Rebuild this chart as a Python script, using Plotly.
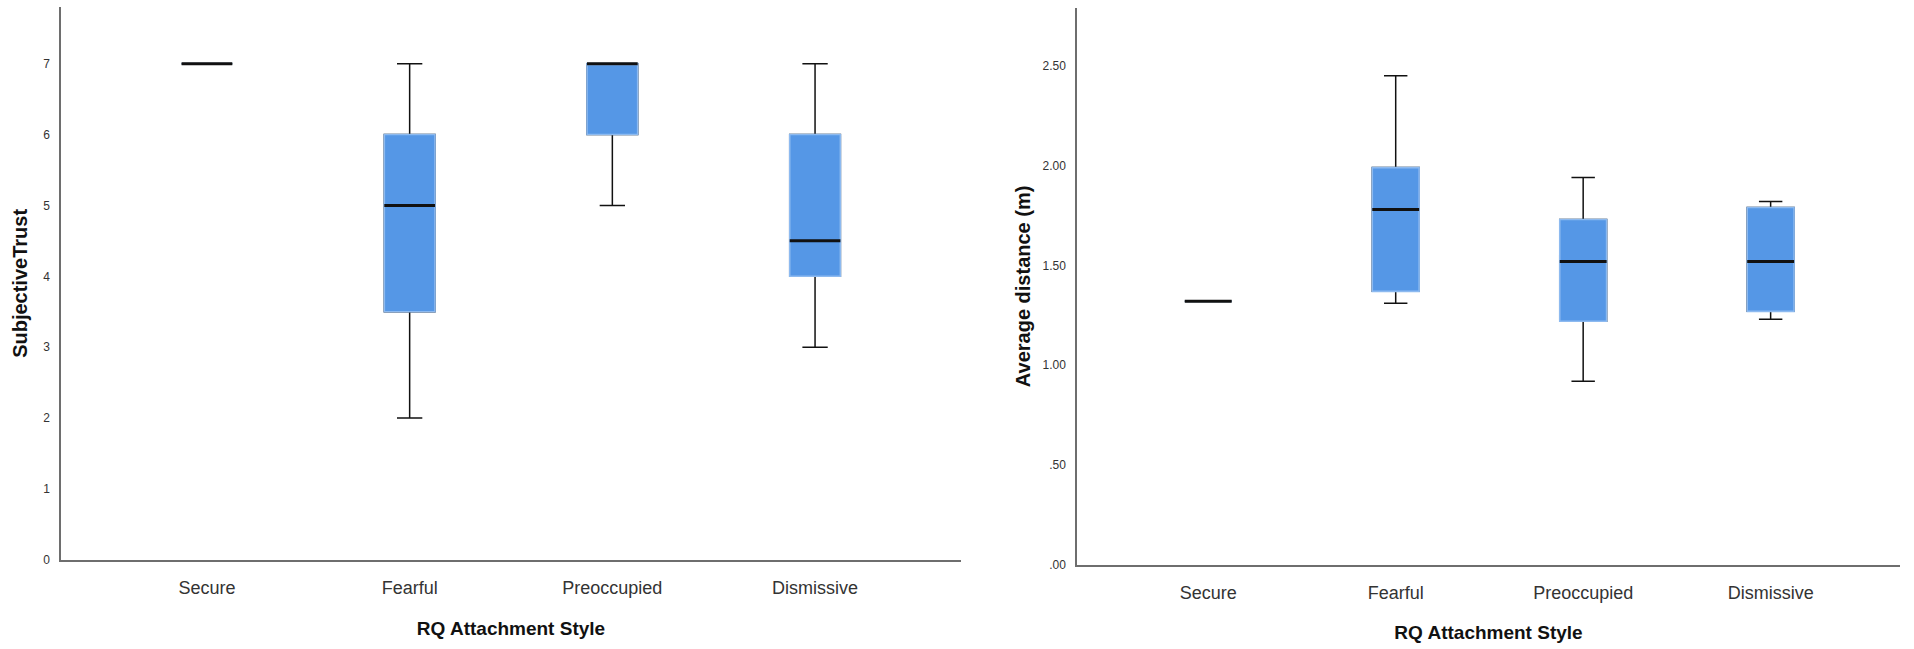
import plotly.graph_objects as go

# ---------------- data ----------------
categories = ["Secure", "Fearful", "Preoccupied", "Dismissive"]

trust_lower = [7, 2, 5, 3]
trust_q1 = [7, 3.5, 6, 4]
trust_median = [7, 5, 7, 4.5]
trust_q3 = [7, 6, 7, 6]
trust_upper = [7, 7, 7, 7]

dist_lower = [1.32, 1.31, 0.92, 1.23]
dist_q1 = [1.32, 1.37, 1.22, 1.27]
dist_median = [1.32, 1.78, 1.52, 1.52]
dist_q3 = [1.32, 1.99, 1.73, 1.79]
dist_upper = [1.32, 2.45, 1.94, 1.82]

trust_tickvals = [0, 1, 2, 3, 4, 5, 6, 7]
trust_ticktext = ["0", "1", "2", "3", "4", "5", "6", "7"]
dist_tickvals = [0, 0.5, 1.0, 1.5, 2.0, 2.5]
dist_ticktext = [".00", ".50", "1.00", "1.50", "2.00", "2.50"]

# ---------------- style ----------------
BLUE = "#5597E6"
BORDER = "#8DBAF0"
DARK = "#111111"
AXIS = "#6E6E6E"
FONT = "Liberation Sans, Arial, sans-serif"
W, H = 1914, 649

fig = go.Figure()


def add_boxes(lower, q1, med, q3, upper, xa, ya):
    common = dict(x=categories, orientation="v", width=0.25, whiskerwidth=0.5,
                  boxpoints=False, hoverinfo="skip", showlegend=False,
                  xaxis=xa, yaxis=ya)
    # whiskers + caps (black)
    fig.add_trace(go.Box(q1=q1, median=med, q3=q3, lowerfence=lower, upperfence=upper,
                         fillcolor=BLUE, line=dict(color=DARK, width=1.5), **common))
    # box body with light border
    fig.add_trace(go.Box(q1=q1, median=med, q3=q3, lowerfence=q1, upperfence=q3,
                         fillcolor=BLUE, line=dict(color=BORDER, width=1.6), **common))
    # thick black median
    fig.add_trace(go.Box(q1=med, median=med, q3=med, lowerfence=med, upperfence=med,
                         fillcolor=DARK, line=dict(color=DARK, width=3), **common))


add_boxes(trust_lower, trust_q1, trust_median, trust_q3, trust_upper, "x", "y")
add_boxes(dist_lower, dist_q1, dist_median, dist_q3, dist_upper, "x2", "y2")

xcommon = dict(type="category", showline=True, linecolor=AXIS, linewidth=1.5,
               showgrid=False, zeroline=False, ticks="", ticklabelstandoff=11,
               tickfont=dict(family=FONT, size=18, color="#333333"),
               title=dict(text="<b>RQ Attachment Style</b>", standoff=24,
                          font=dict(family=FONT, size=19, color="#111111")),
               fixedrange=True)
ycommon = dict(showline=True, linecolor=AXIS, linewidth=1.5, showgrid=False,
               zeroline=False, ticks="", ticklabelstandoff=7,
               tickfont=dict(family=FONT, size=12, color="#333333"), fixedrange=True)

fig.update_layout(
    width=W, height=H, autosize=False,
    margin=dict(l=0, r=0, t=0, b=0),
    paper_bgcolor="white", plot_bgcolor="white",
    boxmode="overlay",
    xaxis=dict(domain=[61 / W, 961 / W], range=[-0.72, 3.72], anchor="y", **xcommon),
    yaxis=dict(domain=[(H - 566) / H, (H - 7) / H], range=[0, 7.8], anchor="x",
               tickvals=trust_tickvals, ticktext=trust_ticktext,
               title=dict(text="<b>SubjectiveTrust</b>", standoff=10,
                          font=dict(family=FONT, size=20, color="#111111")),
               **ycommon),
    xaxis2=dict(domain=[1077 / W, 1900 / W], range=[-0.70, 3.69], anchor="y2", **xcommon),
    yaxis2=dict(domain=[(H - 571) / H, (H - 8) / H], range=[0, 2.79], anchor="x2",
                tickvals=dist_tickvals, ticktext=dist_ticktext,
                title=dict(text="<b>Average distance (m)</b>", standoff=6,
                           font=dict(family=FONT, size=20, color="#111111")),
                **ycommon),
)

fig.write_html("out.html", config={"displayModeBar": False},
               post_script="document.body.style.margin='0';document.body.style.overflow='hidden';")
